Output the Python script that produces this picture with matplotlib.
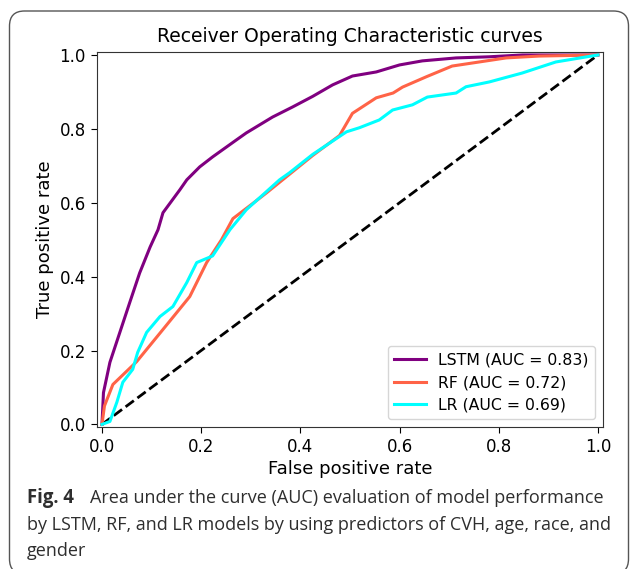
import matplotlib
matplotlib.use("Agg")
import matplotlib.pyplot as plt
from matplotlib.patches import FancyBboxPatch

# ROC points
lstm_fpr = [0, 0.003, 0.016, 0.036, 0.056, 0.076, 0.097, 0.113, 0.123, 0.157, 0.171, 0.197, 0.223,
            0.271, 0.291, 0.344, 0.384, 0.425, 0.465, 0.505, 0.553, 0.60, 0.646, 0.714, 0.78, 0.848, 1.0]
lstm_tpr = [0, 0.086, 0.168, 0.249, 0.33, 0.41, 0.48, 0.527, 0.573, 0.635, 0.662, 0.697, 0.724,
            0.770, 0.789, 0.832, 0.859, 0.888, 0.919, 0.943, 0.954, 0.973, 0.984, 0.992, 0.995, 1.0, 1.0]

rf_fpr = [0, 0.005, 0.022, 0.07, 0.123, 0.177, 0.211, 0.241, 0.264, 0.304, 0.332, 0.425, 0.479,
          0.505, 0.553, 0.587, 0.606, 0.654, 0.706, 0.815, 0.881, 1.0]
rf_tpr = [0, 0.05, 0.108, 0.17, 0.257, 0.346, 0.438, 0.50, 0.557, 0.598, 0.627, 0.728, 0.782,
          0.842, 0.884, 0.897, 0.913, 0.941, 0.97, 0.992, 0.997, 1.0]

lr_fpr = [0, 0.016, 0.03, 0.042, 0.062, 0.072, 0.09, 0.117, 0.143, 0.171, 0.191, 0.223, 0.258, 0.291,
          0.358, 0.378, 0.425, 0.493, 0.519, 0.559, 0.586, 0.626, 0.656, 0.714, 0.734, 0.781, 0.847,
          0.915, 1.0]
lr_tpr = [0, 0.008, 0.06, 0.114, 0.149, 0.195, 0.249, 0.292, 0.319, 0.384, 0.438, 0.456, 0.527, 0.581,
          0.662, 0.681, 0.731, 0.792, 0.803, 0.824, 0.851, 0.865, 0.886, 0.897, 0.914, 0.927, 0.951,
          0.981, 1.0]

labels = ["LSTM (AUC = 0.83)", "RF (AUC = 0.72)", "LR (AUC = 0.69)"]
ticks = [0.0, 0.2, 0.4, 0.6, 0.8, 1.0]

fig = plt.figure(figsize=(6.3, 5.69), dpi=100)
ax = fig.add_axes([0.154, 0.2496, 0.803, 0.659])

ax.plot([0, 1], [0, 1], "k--", lw=2)
ax.plot(lstm_fpr, lstm_tpr, color="purple", lw=2.2, label=labels[0])
ax.plot(rf_fpr, rf_tpr, color="tomato", lw=2.2, label=labels[1])
ax.plot(lr_fpr, lr_tpr, color="cyan", lw=2.2, label=labels[2])

ax.set_xlim(-0.01, 1.01)
ax.set_ylim(-0.007, 1.008)
ax.set_xticks(ticks)
ax.set_yticks(ticks)
ax.tick_params(labelsize=12, length=4.5)
for s in ax.spines.values():
    s.set_color("#333333")
ax.set_xlabel("False positive rate", fontsize=13, labelpad=3)
ax.set_ylabel("True positive rate", fontsize=13)
ax.set_title("Receiver Operating Characteristic curves", fontsize=13.5, pad=7)
ax.legend(loc="lower right", fontsize=11.3)

# caption under the chart
cap_col = "#2e2e2e"
cap_size = 12.95
fig.text(27 / 630, 1 - 503 / 569, "Fig. 4", fontsize=cap_size + 0.4, fontweight="bold",
         family="Open Sans", color=cap_col)
fig.text(90 / 630, 1 - 503 / 569, "Area under the curve (AUC) evaluation of model performance",
         fontsize=cap_size, family="Open Sans", color=cap_col)
fig.text(27 / 630, 1 - 530 / 569, "by LSTM, RF, and LR models by using predictors of CVH, age, race, and",
         fontsize=cap_size, family="Open Sans", color=cap_col)
fig.text(27 / 630, 1 - 556 / 569, "gender", fontsize=cap_size, family="Open Sans", color=cap_col)

# rounded frame around the figure
frame = FancyBboxPatch((9.5, -5), 619, 563, boxstyle="round,pad=0,rounding_size=15",
                       transform=None, fill=False, ec="#555555", lw=1)
fig.add_artist(frame)

fig.savefig("out.png", dpi=100)
